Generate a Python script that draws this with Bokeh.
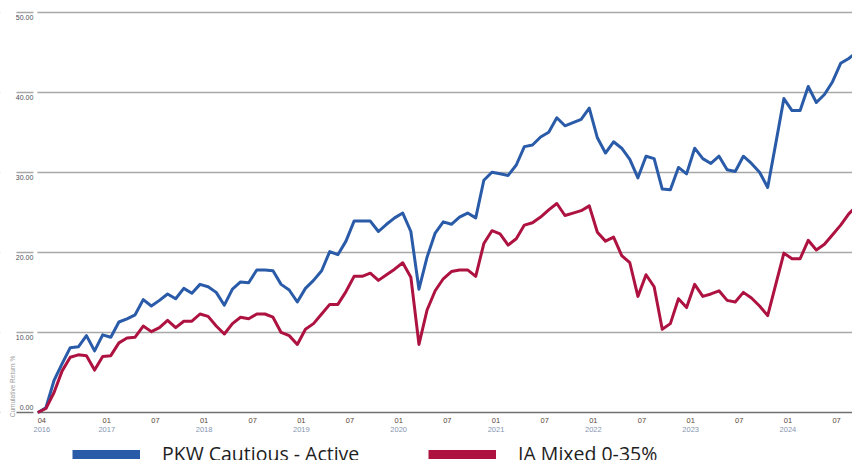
import math
from bokeh.plotting import figure
from bokeh.models import (FixedTicker, Grid, BoxAnnotation, Range1d, Legend, LegendItem)
from bokeh.core.properties import value
from bokeh.embed import file_html
from bokeh.resources import INLINE

# ---------------- data (monthly, end of month, starting April 2016) ----------------
start_year, start_month = 2016, 4
series_names = ["PKW Cautious - Active", "IA Mixed 0-35%"]

pkw = [0.0, 0.6, 4.0, 6.1, 8.1, 8.2, 9.6, 7.7, 9.7, 9.4,
       11.3, 11.7, 12.2, 14.1, 13.3, 14.0, 14.8, 14.2, 15.5, 14.9,
       16.0, 15.7, 15.0, 13.4, 15.4, 16.3, 16.2, 17.8, 17.8, 17.7,
       16.0, 15.3, 13.8, 15.5, 16.5, 17.7, 20.1, 19.7, 21.4, 23.9,
       23.9, 23.9, 22.6, 23.5, 24.3, 24.9, 22.6, 15.4, 19.4, 22.4,
       23.8, 23.5, 24.4, 24.9, 24.3, 29.0, 30.0, 29.8, 29.6, 30.9,
       33.2, 33.4, 34.4, 35.0, 36.8, 35.8, 36.2, 36.6, 38.0, 34.3,
       32.4, 33.8, 33.0, 31.6, 29.3, 32.0, 31.7, 27.9, 27.8, 30.6,
       29.8, 33.0, 31.7, 31.1, 32.0, 30.3, 30.1, 32.0, 31.1, 30.0,
       28.1, 33.6, 39.2, 37.7, 37.7, 40.7, 38.7, 39.7, 41.3, 43.6,
       44.2, 45.0]

ia = [0.0, 0.5, 2.5, 5.2, 6.9, 7.2, 7.1, 5.3, 7.0, 7.1,
      8.7, 9.3, 9.4, 10.8, 10.1, 10.6, 11.5, 10.6, 11.4, 11.4,
      12.3, 12.0, 10.8, 9.8, 11.1, 11.9, 11.7, 12.3, 12.3, 11.9,
      10.0, 9.6, 8.5, 10.4, 11.1, 12.3, 13.5, 13.5, 15.1, 17.0,
      17.0, 17.4, 16.5, 17.2, 17.9, 18.7, 16.9, 8.5, 12.8, 15.2,
      16.7, 17.6, 17.8, 17.8, 17.0, 21.1, 22.7, 22.3, 20.9, 21.7,
      23.4, 23.7, 24.4, 25.3, 26.1, 24.6, 24.9, 25.2, 25.8, 22.5,
      21.4, 21.9, 19.6, 18.7, 14.5, 17.2, 15.7, 10.4, 11.1, 14.2,
      13.1, 16.0, 14.5, 14.8, 15.2, 14.0, 13.8, 15.0, 14.3, 13.3,
      12.1, 16.0, 19.9, 19.2, 19.2, 21.5, 20.3, 21.0, 22.2, 23.4,
      24.8, 25.8]

y_ticks = [0, 10, 20, 30, 40, 50]
y_tick_labels = ["0.00", "10.00", "20.00", "30.00", "40.00", "50.00"]

x_tick_months = ["2016-04", "2017-01", "2017-07", "2018-01", "2018-07", "2019-01",
                 "2019-07", "2020-01", "2020-07", "2021-01", "2021-07", "2022-01",
                 "2022-07", "2023-01", "2023-07", "2024-01", "2024-07"]
x_month_labels = ["04", "01", "07", "01", "07", "01", "07", "01", "07",
                  "01", "07", "01", "07", "01", "07", "01", "07"]
x_year_labels = ["2016", "2017", "", "2018", "", "2019", "", "2020", "",
                 "2021", "", "2022", "", "2023", "", "2024", ""]

y_axis_title = "Cumulative Return %"

# ---------------- helpers ----------------
def month_pos(ym):
    y, m = (int(s) for s in ym.split("-"))
    idx = (y - start_year) * 12 + (m - start_month) - 1  # start of month = end of previous
    return max(idx, 0) + 0.5                              # labels sit right of their tick

xs = list(range(len(pkw)))
m_pos = [month_pos(ym) for ym in x_tick_months]
yr_pos = [p for p, lab in zip(m_pos, x_year_labels) if lab]
yr_lab = [lab for lab in x_year_labels if lab]

BLUE = "#2a5ba8"
RED = "#ad1240"
TICK_FONT = value("Liberation Sans Narrow, Liberation Sans, sans-serif")

# the frame fills the whole canvas; the axis area is part of the data space below 0
X0, X1 = -4.6, 100.46
Y0, Y1 = -5.99, 51.44
p = figure(width=852, height=460, output_backend="svg", toolbar_location=None,
           x_range=Range1d(X0, X1), y_range=Range1d(Y0, Y1),
           x_axis_type=None, y_axis_type=None,
           min_border_left=0, min_border_right=0, min_border_top=0, min_border_bottom=0)
p.outline_line_color = None
p.background_fill_color = "white"
p.border_fill_color = "white"

grid = Grid(dimension=1, ticker=FixedTicker(ticks=[t for t in y_ticks if t != 0]),
            grid_line_color="#a8a8a8", grid_line_width=1.5)
p.add_layout(grid)
base = Grid(dimension=1, ticker=FixedTicker(ticks=[0]),
            grid_line_color="#707070", grid_line_width=1.5)
p.add_layout(base)

# grid lines begin a little left of the data, with a small gap after the tick stub
p.add_layout(BoxAnnotation(left=X0, right=-2.63, fill_color="white", fill_alpha=1.0,
                           line_color=None, level="underlay"))
p.add_layout(BoxAnnotation(left=-0.53, right=-0.05, fill_color="white", fill_alpha=1.0,
                           line_color=None, level="underlay"))

r1 = p.line(xs, pkw, line_width=3, color=BLUE, line_join="round")
r2 = p.line(xs, ia, line_width=3, color=RED, line_join="round")

# y tick labels sit just under (or, for zero, above) their grid line
y_offsets = [-5 if v == 0 else 5 for v in y_ticks]
p.text(x=-0.55, y=y_ticks, text=y_tick_labels, y_offset=y_offsets,
       text_align="right", text_baseline="middle",
       text_font=TICK_FONT, text_font_size="7px", text_color="#4d4a55")

# x tick labels: month row and year row under the zero line
p.text(x=m_pos, y=0, text=x_month_labels, y_offset=7.5,
       text_align="center", text_baseline="middle",
       text_font=TICK_FONT, text_font_size="7.5px", text_color="#5b4636")
p.text(x=yr_pos, y=0, text=yr_lab, y_offset=16.5,
       text_align="center", text_baseline="middle",
       text_font=TICK_FONT, text_font_size="7.5px", text_color="#8595b0")

# y axis title, rotated
p.text(x=0, y=0, text=[y_axis_title], x_offset=-25, y_offset=-26, angle=math.pi / 2,
       text_align="center", text_baseline="middle",
       text_font=TICK_FONT, text_font_size="6.5px", text_color="#9c9c9c")

# legend: thick swatches come from hidden, wider copies of the two series
leg_r1 = p.line(xs, pkw, line_width=9, color=BLUE, visible=False)
leg_r2 = p.line(xs, ia, line_width=9, color=RED, visible=False)
common = dict(orientation="horizontal", glyph_width=68, glyph_height=10, label_height=10,
              label_standoff=22, label_text_font="Open Sans", label_text_font_size="19.5px",
              label_text_color="#1e1e1e", padding=0, margin=0, spacing=0,
              border_line_color=None, background_fill_alpha=0,
              inactive_fill_alpha=0, click_policy="none")
p.add_layout(Legend(items=[LegendItem(label=series_names[0], renderers=[leg_r1])],
                    location=(72, -7), **common))
p.add_layout(Legend(items=[LegendItem(label=series_names[1], renderers=[leg_r2])],
                    location=(428, -7), **common))

open("out.html", "w").write(file_html(p, INLINE))
